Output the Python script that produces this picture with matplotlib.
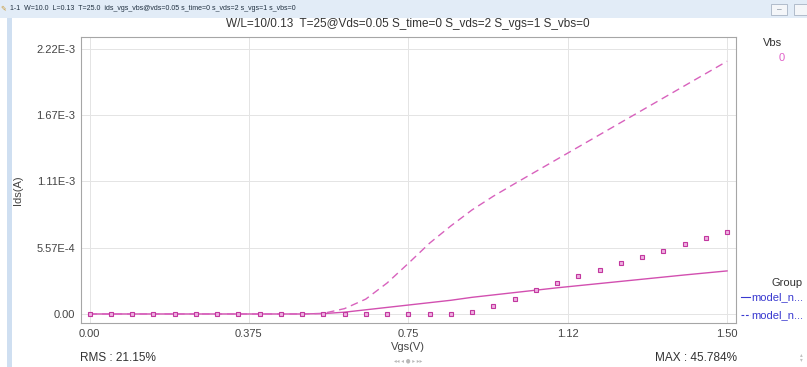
"""
Ids-Vgs fit plot: measured points against two model curves.
"""

import matplotlib
matplotlib.use("Agg")
import matplotlib.pyplot as plt
from matplotlib import font_manager
from matplotlib.patches import Rectangle

# Data
vgs = [0.00, 0.05, 0.10, 0.15, 0.20, 0.25, 0.30, 0.35, 0.40, 0.45,
       0.50, 0.55, 0.60, 0.65, 0.70, 0.75, 0.80, 0.85, 0.90, 0.95,
       1.00, 1.05, 1.10, 1.15, 1.20, 1.25, 1.30, 1.35, 1.40, 1.45, 1.50]

ids_meas = [0, 0, 0, 0, 0, 0, 0, 0, 0, 0,
            0, 0, 0, 0, 0, 0, 1e-6, 3e-6, 1.7e-5, 6.8e-5,
            1.27e-4, 2.03e-4, 2.62e-4, 3.20e-4, 3.70e-4, 4.30e-4, 4.80e-4, 5.30e-4,
            5.85e-4, 6.35e-4, 6.90e-4]

ids_model_solid = [0, 0, 0, 0, 0, 0, 0, 0, 0, 0,
                   0, 3e-6, 1.5e-5, 3.5e-5, 5.5e-5, 7.5e-5, 9.5e-5, 1.15e-4, 1.40e-4, 1.60e-4,
                   1.80e-4, 2.00e-4, 2.20e-4, 2.38e-4, 2.56e-4, 2.74e-4, 2.92e-4, 3.10e-4,
                   3.28e-4, 3.45e-4, 3.62e-4]

ids_model_dash = [0, 0, 0, 0, 0, 0, 0, 0, 0, 0,
                  0, 5e-6, 4.5e-5, 1.25e-4, 2.6e-4, 4.25e-4, 5.95e-4, 7.4e-4, 8.75e-4, 9.9e-4,
                  1.095e-3, 1.198e-3, 1.301e-3, 1.404e-3, 1.507e-3, 1.610e-3, 1.713e-3, 1.816e-3,
                  1.919e-3, 2.022e-3, 2.125e-3]

x_ticks = [0.0, 0.375, 0.75, 1.125, 1.5]
x_tick_labels = ["0.00", "0.375", "0.75", "1.12", "1.50"]
y_ticks = [0.0, 5.57e-4, 1.114e-3, 1.671e-3, 2.228e-3]
y_tick_labels = ["0.00", "5.57E-4", "1.11E-3", "1.67E-3", "2.22E-3"]

header = "1-1  W=10.0  L=0.13  T=25.0  ids_vgs_vbs@vds=0.05 s_time=0 s_vds=2 s_vgs=1 s_vbs=0"
title = "W/L=10/0.13  T=25@Vds=0.05 S_time=0 S_vds=2 S_vgs=1 S_vbs=0"

PINK = "#d24fb0"
BLUE = "#3a3ad0"

# narrow face if there is one, else normal Liberation Sans
names = {f.name for f in font_manager.fontManager.ttflist}
FONT = ["Liberation Sans Narrow"] if "Liberation Sans Narrow" in names else []
FONT += ["Liberation Sans", "DejaVu Sans"]

W, H = 807, 367
plt.rcParams["font.family"] = FONT

fig = plt.figure(figsize=(W / 100, H / 100), dpi=100)
fig.patch.set_facecolor("white")


def fx(px):
    return px / W


def fy(py):
    return 1 - py / H


# Window chrome
fig.patches.append(Rectangle((0, fy(18)), 1, 18 / H, transform=fig.transFigure,
                             facecolor="#e2ecf7", edgecolor="none", zorder=0))
fig.patches.append(Rectangle((fx(7), 0), 5 / W, fy(18), transform=fig.transFigure,
                             facecolor="#cfdff1", edgecolor="none", zorder=0))
for bx, bw in [(771, 16), (794, 13)]:
    fig.patches.append(Rectangle((fx(bx), fy(15)), bw / W, 11 / H,
                                 transform=fig.transFigure, facecolor="#f4f6f9",
                                 edgecolor="#a8b4c4", linewidth=0.6, zorder=1))
fig.text(fx(779), fy(10), "–", fontsize=6, color="#607080", ha="center", va="center")
fig.text(fx(3), fy(8), "✎", fontsize=5, color="#c89a3a", ha="center", va="center",
         family="DejaVu Sans")
fig.text(fx(10), fy(8), header, fontsize=5, color="#203040", ha="left", va="center")

fig.text(fx(408), fy(24), title, fontsize=8.5, color="#333333", ha="center", va="center")

# Plot area
ax = fig.add_axes([fx(81), fy(323), (736 - 81) / W, (323 - 37) / H])
ax.plot(vgs, ids_model_solid, color=PINK, linewidth=1.0, zorder=3)
ax.plot(vgs, ids_model_dash, color="#d862bd", linewidth=1.0, dashes=(5.5, 3.5), zorder=3)
ax.plot(vgs, ids_meas, linestyle="none", marker="s", markersize=3.2,
        markerfacecolor="#eeb0e0", markeredgecolor="#c2379f", markeredgewidth=0.8,
        zorder=4)

ax.set_xlim(-0.020, 1.521)
ax.set_ylim(-7.6e-5, 2.329e-3)
ax.set_xticks(x_ticks)
ax.set_xticklabels(x_tick_labels)
ax.set_yticks(y_ticks)
ax.set_yticklabels(y_tick_labels)
ax.tick_params(length=0, labelsize=8, colors="#444444", pad=4)
ax.grid(True, color="#e4e4e4", linewidth=0.7)
for spine in ax.spines.values():
    spine.set_color("#a6a6a6")
    spine.set_linewidth(0.8)

fig.text(fx(18), fy(190), "Ids(A)", fontsize=8, color="#444444", rotation=90,
         ha="center", va="center")
fig.text(fx(408), fy(347), "Vgs(V)", fontsize=8, color="#444444",
         ha="center", va="center")
fig.text(fx(408), fy(361), "◂◂ ◂ ● ▸ ▸▸", fontsize=4, color="#b8b8b8",
         ha="center", va="center", family="DejaVu Sans")
fig.text(fx(80), fy(358), "RMS : 21.15%", fontsize=8.5, color="#333333",
         ha="left", va="center")
fig.text(fx(737), fy(358), "MAX : 45.784%", fontsize=8.5, color="#333333",
         ha="right", va="center")
fig.text(fx(801), fy(357), "▴\n▾", fontsize=4, color="#c0c0c0", ha="center",
         va="center", linespacing=0.9, family="DejaVu Sans")

# Side legend
fig.text(fx(773), fy(43), "Vbs", fontsize=8, color="#333333", ha="center", va="center")
fig.text(fx(782), fy(58), "0", fontsize=8, color="#e060c8", ha="center", va="center")
fig.text(fx(771), fy(283), "Group", fontsize=8, color="#333333", ha="left", va="center")
fig.lines.append(plt.Line2D([fx(741), fx(750)], [fy(297), fy(297)], transform=fig.transFigure,
                            color=BLUE, linewidth=0.8))
fig.text(fx(751), fy(297), "model_n...", fontsize=8, color=BLUE, ha="left", va="center")
fig.lines.append(plt.Line2D([fx(741), fx(750)], [fy(315), fy(315)], transform=fig.transFigure,
                            color=BLUE, linewidth=0.8, dashes=(2.5, 1.5)))
fig.text(fx(751), fy(315), "model_n...", fontsize=8, color=BLUE, ha="left", va="center")

fig.savefig("out.png", dpi=100)
plt.close(fig)
